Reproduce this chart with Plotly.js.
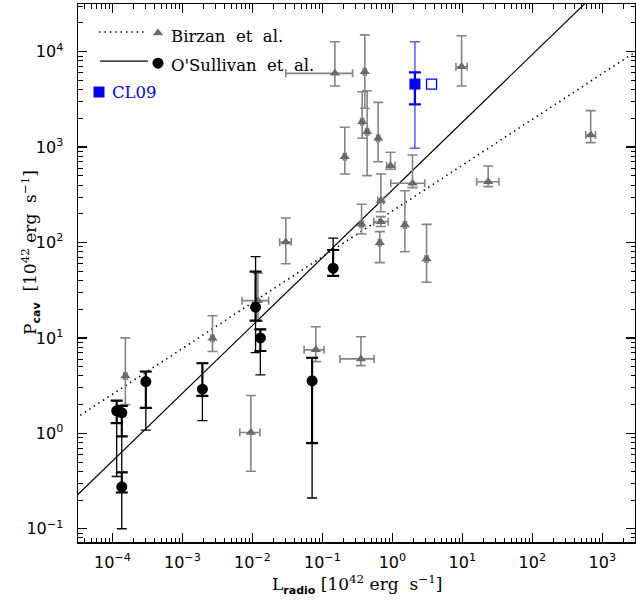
<!DOCTYPE html>
<html>
<head>
<meta charset="utf-8">
<script src="https://cdn.plot.ly/plotly-3.0.1.min.js"></script>
<style>html,body{margin:0;padding:0;background:#fff;}#plot{width:636px;height:606px;}</style>
</head>
<body>
<div id="plot"></div>
<script>
// ---- Birzan et al. (gray triangles) ----
const birzanL    = [1.53e-4, 2.69e-3, 0.012, 9.5e-3, 0.0806, 0.355, 0.030, 1.94, 23.4, 0.685, 0.363, 0.685, 0.662, 1.51, 3.08, 0.151, 0.404, 0.370, 0.436, 0.209, 0.627, 0.942, 9.76, 682];
const birzanLlo  = [1.45e-4, 2.55e-3, 7.1e-3, 6.6e-3, 0.0548, 0.178, 0.0245, 0.95, 16.0, 0.62, 0.345, 0.54, 0.63, 1.44, 2.93, 0.030, 0.385, 0.352, 0.415, 0.199, 0.597, 0.83, 8.1, 580];
const birzanLhi  = [1.61e-4, 2.83e-3, 0.0171, 0.0128, 0.1055, 0.547, 0.036, 2.9, 33.3, 0.75, 0.381, 0.87, 0.695, 1.59, 3.24, 0.27, 0.424, 0.389, 0.458, 0.219, 0.658, 1.09, 11.7, 800];
const birzanP    = [4.0, 9.9, 24.6, 1.02, 7.5, 6.03, 101, 418, 434, 275, 155, 165.5, 99.7, 153, 67.3, 5930, 6170, 1845, 1452, 794, 1237, 639, 6960, 1340];
const birzanPlo  = [2.0, 7.2, 15.0, 0.40, 5.65, 5.13, 60, 376, 385, 210, 123, 147, 61.5, 80, 38.4, 4370, 2550, 1237, 502, 523, 703, 586, 4370, 1113];
const birzanPhi  = [10.0, 17.1, 47.7, 2.49, 13.1, 10.3, 181, 827, 634, 523, 252, 187, 130, 349, 155, 12700, 15000, 3810, 3900, 1615, 2945, 884, 14700, 2410];

// ---- O'Sullivan et al. (black circles) ----
const osL        = [1.15e-4, 1.36e-4, 1.36e-4, 3.0e-4, 1.93e-3, 0.0111, 0.013, 0.0713, 0.1425];
const osP        = [1.72, 1.64, 0.275, 3.49, 2.9, 21, 10, 3.55, 53.8];
const osOuterLo  = [0.353, 0.39, 0.10, 1.08, 1.36, 7.0, 4.1, 0.21, 44.7];
const osOuterHi  = [2.2, 1.94, 0.39, 4.44, 5.43, 71, 12.3, 6.2, 111];
const osInnerLo  = [1.28, 0.93, 0.24, 1.85, 2.47, 15.2, 7.3, 0.79, 44.7];
const osInnerHi  = [2.2, 1.94, 0.39, 4.44, 5.43, 49.5, 12.3, 6.2, 83.6];

// ---- CL09 (blue squares) ----
const clL        = [2.10];
const clP        = [4580];
const clOuterLo  = [972];
const clOuterHi  = [12700];
const clInnerLo  = [2810];
const clInnerHi  = [6080];
const clOpenL    = [3.63];
const clOpenP    = [4580];

// ---- fit lines (end points) ----
const birzanFitL = [3e-5, 3e3];
const birzanFitP = [1.44, 1.0e4];
const osFitL     = [3e-5, 1e3];
const osFitP     = [0.218, 4.8e4];

// ---- tick labels ----
const xTickVals  = [1e-4, 1e-3, 1e-2, 1e-1, 1, 10, 100, 1000];
const yTickVals  = [0.1, 1, 10, 100, 1000, 10000];

const plus  = (v, hi) => v.map((y, i) => hi[i] - y);
const minus = (v, lo) => v.map((y, i) => y - lo[i]);

const GRAY_M = '#6a6a6a', GRAY_E = '#858585';
const DOT = '1.4px,4px';

const traces = [
  {x: birzanFitL, y: birzanFitP, mode: 'lines', line: {color: 'black', width: 1.6, dash: DOT}, hoverinfo: 'skip'},
  {x: osFitL, y: osFitP, mode: 'lines', line: {color: 'black', width: 1.2}, hoverinfo: 'skip'},
  {x: birzanL, y: birzanP, mode: 'markers',
   marker: {symbol: 'triangle-up', size: 9, color: GRAY_M},
   error_y: {type: 'data', symmetric: false, array: plus(birzanP, birzanPhi), arrayminus: minus(birzanP, birzanPlo), color: GRAY_E, thickness: 1.6, width: 5},
   error_x: {type: 'data', symmetric: false, array: plus(birzanL, birzanLhi), arrayminus: minus(birzanL, birzanLlo), color: GRAY_E, thickness: 1.6, width: 4}},
  {x: osL, y: osP, mode: 'markers', marker: {size: 1, color: 'rgba(0,0,0,0)'},
   error_y: {type: 'data', symmetric: false, array: plus(osP, osOuterHi), arrayminus: minus(osP, osOuterLo), color: 'black', thickness: 1.3, width: 5}},
  {x: osL, y: osP, mode: 'markers', marker: {symbol: 'circle', size: 11, color: 'black'},
   error_y: {type: 'data', symmetric: false, array: plus(osP, osInnerHi), arrayminus: minus(osP, osInnerLo), color: 'black', thickness: 2.1, width: 6}},
  {x: clL, y: clP, mode: 'markers', marker: {size: 1, color: 'rgba(0,0,0,0)'},
   error_y: {type: 'data', symmetric: false, array: plus(clP, clOuterHi), arrayminus: minus(clP, clOuterLo), color: '#5a5aff', thickness: 1.5, width: 5}},
  {x: clL, y: clP, mode: 'markers', marker: {symbol: 'square', size: 11, color: '#0000ff'},
   error_y: {type: 'data', symmetric: false, array: plus(clP, clInnerHi), arrayminus: minus(clP, clInnerLo), color: '#0000ff', thickness: 2.3, width: 6}},
  {x: clOpenL, y: clOpenP, mode: 'markers', marker: {symbol: 'square-open', size: 10, color: '#0000ff', line: {width: 1.3}}},
  // legend symbols (overlay axes in 0..1 plot-fraction coordinates)
  {x: [0.0377, 0.1239], y: [0.948, 0.948], xaxis: 'x2', yaxis: 'y2', mode: 'lines', line: {color: 'black', width: 1.6, dash: DOT}},
  {x: [0.1436], y: [0.946], xaxis: 'x2', yaxis: 'y2', mode: 'markers', marker: {symbol: 'triangle-up', size: 9, color: GRAY_M}},
  {x: [0.0395, 0.1257], y: [0.894, 0.894], xaxis: 'x2', yaxis: 'y2', mode: 'lines', line: {color: 'black', width: 1.3}},
  {x: [0.1436], y: [0.890], xaxis: 'x2', yaxis: 'y2', mode: 'markers', marker: {symbol: 'circle', size: 11, color: 'black'}},
  {x: [0.0377], y: [0.8364], xaxis: 'x2', yaxis: 'y2', mode: 'markers', marker: {symbol: 'square', size: 11, color: '#0000ff'}}
];

const tickFont = {family: 'DejaVu Sans', size: 16, color: 'black'};
const axisCommon = {
  type: 'log', showline: true, mirror: 'allticks', linecolor: 'black', linewidth: 1.5,
  ticks: 'inside', ticklen: 9, tickwidth: 1.3, tickcolor: 'black',
  tickmode: 'array', exponentformat: 'power', showgrid: false, zeroline: false,
  tickfont: tickFont,
  minor: {ticks: 'inside', ticklen: 4.5, tickwidth: 1, tickcolor: 'black', dtick: 'D1', showgrid: false}
};

const sup = p => '10<sup>' + (p < 0 ? '\u2212' : '') + Math.abs(p) + '</sup>';

const layout = {
  width: 636, height: 606,
  margin: {l: 78, r: 1, t: 4, b: 64},
  paper_bgcolor: 'white', plot_bgcolor: 'white',
  showlegend: false,
  xaxis: Object.assign({}, axisCommon, {
    range: [-4.492, 3.467], tickvals: xTickVals,
    ticktext: xTickVals.map(v => sup(Math.round(Math.log10(v)))),
    ticklabelstandoff: 5
  }),
  yaxis: Object.assign({}, axisCommon, {
    range: [-1.139, 4.5], tickvals: yTickVals,
    ticktext: yTickVals.map(v => sup(Math.round(Math.log10(v)))),
    ticklabelstandoff: 10
  }),
  xaxis2: {overlaying: 'x', range: [0, 1], visible: false, anchor: 'y2'},
  yaxis2: {overlaying: 'y', range: [0, 1], visible: false, anchor: 'x2'},
  annotations: [
    {xref: 'paper', yref: 'paper', x: 0.5, y: -0.0795, xanchor: 'center', yanchor: 'middle', showarrow: false,
     text: 'L<sub><span style="font-family:DejaVu Sans;font-weight:bold;font-size:11px">radio</span></sub> [10<sup>42</sup> erg  s<sup>\u22121</sup>]',
     font: {family: 'DejaVu Serif', size: 17, color: 'black'}},
    {xref: 'paper', yref: 'paper', x: -0.0862, y: 0.539, xanchor: 'center', yanchor: 'middle', showarrow: false, textangle: -90,
     text: 'P<sub><span style="font-family:DejaVu Sans;font-weight:bold;font-size:11px">cav</span></sub>  [10<sup>42</sup> erg  s<sup>\u22121</sup>]',
     font: {family: 'DejaVu Serif', size: 17, color: 'black'}},
    {xref: 'paper', yref: 'paper', x: 0.163, y: 0.9405, xanchor: 'left', yanchor: 'middle', showarrow: false,
     text: 'Birzan  et  al.', font: {family: 'DejaVu Serif', size: 16.5, color: 'black'}},
    {xref: 'paper', yref: 'paper', x: 0.163, y: 0.8866, xanchor: 'left', yanchor: 'middle', showarrow: false,
     text: "O'Sullivan  et  al.", font: {family: 'DejaVu Serif', size: 16.5, color: 'black'}},
    {xref: 'paper', yref: 'paper', x: 0.0575, y: 0.836, xanchor: 'left', yanchor: 'middle', showarrow: false,
     text: 'CL09', font: {family: 'DejaVu Serif', size: 16.5, color: '#0000ff'}}
  ]
};

Plotly.newPlot('plot', traces, layout, {displayModeBar: false, staticPlot: true});
</script>
</body>
</html>
